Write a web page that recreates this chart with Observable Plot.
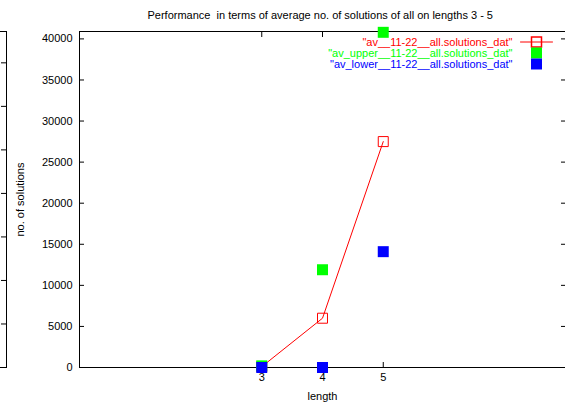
<!DOCTYPE html>
<html><head><meta charset="utf-8">
<script src="https://cdn.jsdelivr.net/npm/d3@7"></script>
<script src="https://cdn.jsdelivr.net/npm/@observablehq/plot@0.6"></script>
<style>
html,body{margin:0;padding:0;background:#fff;overflow:hidden;}
#wrap{position:relative;width:565px;height:405px;overflow:hidden;background:#fff;}
#wrap svg{position:absolute;top:0;white-space:pre;}
</style></head><body><div id="wrap"></div>
<script>
// ---- data ----
const lengths = [3, 4, 5];
const avValues = [100, 6000, 27500];
const upperValues = [200, 11900, 40800];
const lowerValues = [0, 0, 14100];
const seriesNames = ['"av__11-22__all.solutions_dat"', '"av_upper__11-22__all.solutions_dat"', '"av_lower__11-22__all.solutions_dat"'];
const seriesColors = ["#ff0000", "#00ff00", "#0000ff"];
const yTicks = [0, 5000, 10000, 15000, 20000, 25000, 30000, 35000, 40000];
const xTicks = [3, 4, 5];
const fragmentTicks = [1, 2, 3, 4, 5, 6, 7];
const titleText = "Performance  in terms of average no. of solutions of all on lengths 3 - 5";
const xLabel = "length";
const yLabel = "no. of solutions";

const toRows = vals => lengths.map((l, i) => ({length: l, value: vals[i]}));
const avData = toRows(avValues), upperData = toRows(upperValues), lowerData = toRows(lowerValues);

const font = {fontFamily: "'Liberation Sans', Arial, Helvetica, sans-serif", fontSize: "11px", background: "transparent", color: "#000"};
const segShape = {draw(ctx, l) { ctx.moveTo(0, -l / 2); ctx.lineTo(0, l / 2); }};
const rowDy = [10.5, 21.5, 32.5];

const main = Plot.plot({
  width: 565, height: 405,
  marginLeft: 79, marginRight: 0, marginTop: 31, marginBottom: 38,
  style: font,
  x: {domain: [0, 8], axis: null},
  y: {domain: [0, 40900], axis: null},
  marks: [
    Plot.frame({stroke: "#000"}),
    Plot.axisY({ticks: yTicks, anchor: "left", tickSize: -5, tickFormat: () => "", label: null}),
    Plot.axisY({ticks: yTicks, anchor: "right", tickSize: -5, tickFormat: () => "", label: null}),
    Plot.axisY({ticks: yTicks, anchor: "left", tickSize: 0, tickPadding: 7, tickFormat: d => String(d), label: null}),
    Plot.axisX({ticks: xTicks, anchor: "bottom", tickSize: -5, tickFormat: () => "", label: null}),
    Plot.axisX({ticks: xTicks, anchor: "top", tickSize: -5, tickFormat: () => "", label: null}),
    Plot.axisX({ticks: xTicks, anchor: "bottom", tickSize: 0, tickPadding: 6, tickFormat: d => String(d), label: null}),
    Plot.line(avData, {x: "length", y: "value", stroke: seriesColors[0], strokeWidth: 1}),
    Plot.dot(avData, {x: "length", y: "value", symbol: "square", r: 5.64, stroke: seriesColors[0], fill: "none", strokeWidth: 1}),
    Plot.dot(upperData, {x: "length", y: "value", symbol: "square", r: 6.2, fill: seriesColors[1], stroke: "none"}),
    Plot.dot(lowerData, {x: "length", y: "value", symbol: "square", r: 6.2, fill: seriesColors[2], stroke: "none"}),
    // legend
    ...seriesNames.map((name, i) => Plot.text([name], {frameAnchor: "top-right", text: d => d, textAnchor: "end", lineAnchor: "middle", dx: -53, dy: rowDy[i], fill: seriesColors[i]})),
    Plot.vector([seriesNames[0]], {frameAnchor: "top-right", dx: -29, dy: rowDy[0], length: 32, rotate: 90, anchor: "start", shape: segShape, stroke: seriesColors[0], strokeWidth: 1}),
    Plot.dot([seriesNames[0]], {frameAnchor: "top-right", dx: -29, dy: rowDy[0], symbol: "square", r: 5.64, stroke: seriesColors[0], fill: "none"}),
    Plot.dot([seriesNames[1]], {frameAnchor: "top-right", dx: -29, dy: rowDy[1], symbol: "square", r: 6.2, fill: seriesColors[1], stroke: "none"}),
    Plot.dot([seriesNames[2]], {frameAnchor: "top-right", dx: -29, dy: rowDy[2], symbol: "square", r: 6.2, fill: seriesColors[2], stroke: "none"}),
    // labels
    Plot.text([titleText], {frameAnchor: "top-left", text: d => d, textAnchor: "start", lineAnchor: "middle", dx: 68, dy: -16}),
    Plot.text([xLabel], {frameAnchor: "bottom", text: d => d, textAnchor: "middle", lineAnchor: "middle", dy: 28.5}),
    Plot.text([yLabel], {frameAnchor: "left", text: d => d, textAnchor: "middle", lineAnchor: "middle", rotate: -90, dx: -59, dy: 0})
  ]
});

const fragment = Plot.plot({
  width: 17, height: 405,
  marginLeft: 0, marginRight: 1, marginTop: 31, marginBottom: 38,
  style: font,
  x: {domain: [0, 1], axis: null},
  y: {domain: [0, 7.72], axis: null},
  marks: [
    Plot.frame({stroke: "#000"}),
    Plot.axisY({ticks: fragmentTicks, anchor: "right", tickSize: -6, tickFormat: () => "", label: null})
  ]
});
fragment.style.left = "-10px";
main.style.left = "0px";
const wrap = document.getElementById("wrap");
wrap.appendChild(main);
wrap.appendChild(fragment);
</script></body></html>
